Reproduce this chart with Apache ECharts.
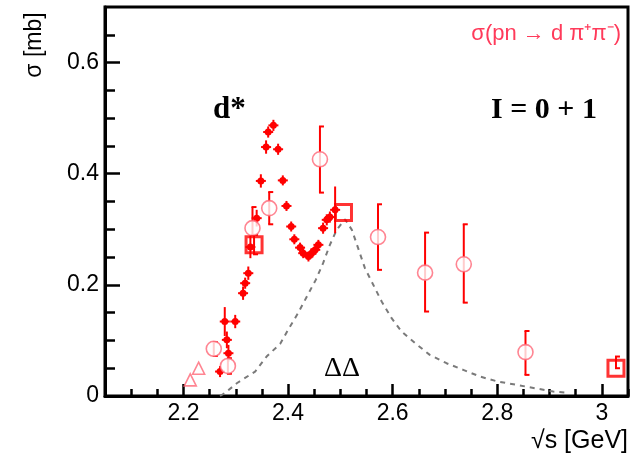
<!DOCTYPE html>
<html>
<head>
<meta charset="utf-8">
<script src="https://cdn.jsdelivr.net/npm/echarts@6/dist/echarts.min.js"></script>
<style>html,body{margin:0;padding:0;background:#fff;}#c{width:635px;height:459px;}</style>
</head>
<body>
<div id="c"></div>
<script>
// ---- data ----
const xTicks = [2.2, 2.4, 2.6, 2.8, 3.0];
const xTickLabels = ['2.2', '2.4', '2.6', '2.8', '3'];
const xMinorTicks = [2.05, 2.1, 2.15, 2.25, 2.3, 2.35, 2.45, 2.5, 2.55, 2.65, 2.7, 2.75, 2.85, 2.9, 2.95, 3.05];
const yTicks = [0, 0.2, 0.4, 0.6];
const yTickLabels = ['0', '0.2', '0.4', '0.6'];
const yMinorTicks = [0.05, 0.1, 0.15, 0.25, 0.3, 0.35, 0.45, 0.5, 0.55, 0.65];

// Delta-Delta (dashed curve)
const ddX = [2.27, 2.279, 2.302, 2.337, 2.359, 2.385, 2.400, 2.419, 2.436, 2.453, 2.467, 2.480, 2.493, 2.509, 2.522, 2.534, 2.547, 2.579, 2.598, 2.617, 2.643, 2.671, 2.703, 2.735, 2.767, 2.801, 2.837, 2.872, 2.907, 2.935];
const ddY = [0.0, 0.005, 0.023, 0.044, 0.071, 0.094, 0.119, 0.149, 0.179, 0.209, 0.239, 0.272, 0.299, 0.318, 0.299, 0.266, 0.230, 0.170, 0.140, 0.116, 0.095, 0.074, 0.059, 0.047, 0.035, 0.026, 0.020, 0.014, 0.008, 0.006];

// WASA filled points
const wasaX = [2.270, 2.279, 2.283, 2.286, 2.299, 2.314, 2.318, 2.324, 2.328, 2.340, 2.348, 2.358, 2.362, 2.372, 2.381, 2.390, 2.397, 2.406, 2.412, 2.423, 2.429, 2.439, 2.445, 2.452, 2.458, 2.467, 2.474, 2.480, 2.490];
const wasaY = [0.044, 0.134, 0.101, 0.077, 0.134, 0.185, 0.203, 0.221, 0.268, 0.320, 0.387, 0.448, 0.475, 0.487, 0.444, 0.388, 0.342, 0.305, 0.282, 0.267, 0.257, 0.251, 0.257, 0.263, 0.272, 0.302, 0.317, 0.322, 0.335];
const wasaErr = [0.010, 0.026, 0.015, 0.015, 0.012, 0.012, 0.010, 0.012, 0.020, 0.015, 0.012, 0.012, 0.010, 0.010, 0.010, 0.008, 0.008, 0.006, 0.006, 0.006, 0.006, 0.006, 0.006, 0.006, 0.006, 0.010, 0.010, 0.010, 0.042];

// open circles
const circX = [2.258, 2.285, 2.332, 2.364, 2.461, 2.572, 2.662, 2.736, 2.854];
const circY = [0.085, 0.054, 0.302, 0.338, 0.426, 0.286, 0.222, 0.237, 0.079];
const circLo = [0.072, 0.040, 0.290, 0.309, 0.366, 0.227, 0.152, 0.168, 0.038];
const circHi = [0.097, 0.068, 0.340, 0.367, 0.485, 0.345, 0.294, 0.309, 0.117];

// open squares
const sqX = [2.335, 2.506, 3.027];
const sqY = [0.272, 0.330, 0.050];
const sqLo = [0.255, 0.330, 0.050];
const sqHi = [0.290, 0.330, 0.071];

// open triangles
const triX = [2.213, 2.229];
const triY = [0.029, 0.050];

// ---- build ----
const RED = '#ff0000';
const PINK = '#ff6677';
const zip = (a, b) => a.map((v, i) => [v, b[i]]);
const errData = circX.map((x, i) => [x, circLo[i], circHi[i]])
  .concat(sqX.map((x, i) => [x, sqLo[i], sqHi[i]]));

function renderErr(params, api) {
  const x = api.value(0), lo = api.value(1), hi = api.value(2);
  if (lo === hi) return null;
  const a = api.coord([x, lo]), b = api.coord([x, hi]);
  const st = { stroke: RED, lineWidth: 2 };
  return { type: 'group', children: [
    { type: 'line', shape: { x1: a[0], y1: a[1], x2: b[0], y2: b[1] }, style: st },
    { type: 'line', shape: { x1: a[0] - 1, y1: a[1], x2: a[0] + 4, y2: a[1] }, style: st },
    { type: 'line', shape: { x1: b[0] - 1, y1: b[1], x2: b[0] + 4, y2: b[1] }, style: st }
  ]};
}

function renderWasa(params, api) {
  const x = api.value(0), y = api.value(1), e = api.value(2);
  const c = api.coord([x, y]);
  const a = api.coord([x, y - e]), b = api.coord([x, y + e]);
  const st = { stroke: RED, lineWidth: 2 };
  return { type: 'group', children: [
    { type: 'line', shape: { x1: a[0], y1: Math.max(a[1], c[1] + 5), x2: b[0], y2: Math.min(b[1], c[1] - 5) }, style: st },
    { type: 'line', shape: { x1: c[0] - 5, y1: c[1], x2: c[0] + 5, y2: c[1] }, style: st },
    { type: 'circle', shape: { cx: c[0], cy: c[1], r: 3.5 }, style: { fill: RED } }
  ]};
}

const chart = echarts.init(document.getElementById('c'), null, { renderer: 'canvas' });
const tickFont = { fontFamily: 'Liberation Sans', fontSize: 23, color: '#000' };
chart.setOption({
  animation: false,
  backgroundColor: '#fff',
  grid: { left: 105, top: 7, width: 523, height: 389, show: true, borderColor: '#000', borderWidth: 3, backgroundColor: 'transparent' },
  xAxis: [{
    type: 'value', min: 2.05, max: 3.05,
    axisLine: { show: true, onZero: false, lineStyle: { color: '#000', width: 3 } },
    axisTick: { show: true, inside: true, length: 12, customValues: xTicks, lineStyle: { color: '#000', width: 2.5 } },
    axisLabel: { show: true, margin: 6, customValues: xTicks, formatter: (v) => xTickLabels[xTicks.findIndex(t => Math.abs(t - v) < 1e-6)], ...tickFont },
    splitLine: { show: false }
  }, {
    type: 'value', min: 2.05, max: 3.05, position: 'bottom',
    axisLine: { show: false },
    axisTick: { show: true, inside: true, length: 7, customValues: xMinorTicks, lineStyle: { color: '#000', width: 2.5 } },
    axisLabel: { show: false },
    splitLine: { show: false }
  }],
  yAxis: [{
    type: 'value', min: 0, max: 0.7,
    axisLine: { show: true, onZero: false, lineStyle: { color: '#000', width: 3 } },
    axisTick: { show: true, inside: true, length: 15, customValues: yTicks, lineStyle: { color: '#000', width: 2.5 } },
    axisLabel: { show: true, margin: 6, customValues: yTicks, formatter: (v) => yTickLabels[yTicks.findIndex(t => Math.abs(t - v) < 1e-6)], ...tickFont },
    splitLine: { show: false }
  }, {
    type: 'value', min: 0, max: 0.7, position: 'left',
    axisLine: { show: false },
    axisTick: { show: true, inside: true, length: 10, customValues: yMinorTicks, lineStyle: { color: '#000', width: 2.5 } },
    axisLabel: { show: false },
    splitLine: { show: false }
  }],
  series: [
    { type: 'line', data: zip(ddX, ddY), symbol: 'none', smooth: false, z: 2,
      lineStyle: { color: '#7a7a7a', width: 2, type: [5, 5] } },
    { type: 'custom', data: errData, renderItem: renderErr, z: 3 },
    { type: 'custom', data: wasaX.map((x, i) => [x, wasaY[i], wasaErr[i]]), renderItem: renderWasa, z: 4 },
    { type: 'scatter', data: zip(circX, circY), symbol: 'circle', symbolSize: 15, z: 5,
      itemStyle: { color: '#fff', borderColor: PINK, borderWidth: 1.6 } },
    { type: 'scatter', data: zip(sqX, sqY), symbol: 'rect', symbolSize: 16, z: 6,
      itemStyle: { color: 'rgba(0,0,0,0)', borderColor: RED, borderWidth: 3 } },
    { type: 'scatter', data: zip(triX, triY), symbol: 'triangle', symbolSize: 12, z: 5,
      itemStyle: { color: 'rgba(0,0,0,0)', borderColor: PINK, borderWidth: 1.6 } }
  ],
  graphic: [
    { type: 'text', x: 35, y: 45, rotation: Math.PI / 2, style: { text: 'σ [mb]', fontFamily: 'Liberation Sans', fontSize: 23, fill: '#000', align: 'center', verticalAlign: 'middle' } },
    { type: 'text', x: 628, y: 441, style: { text: '√s [GeV]', fontFamily: 'Liberation Sans', fontSize: 25, fill: '#000', align: 'right', verticalAlign: 'middle' } },
    { type: 'text', x: 621, y: 34, style: { text: 'σ(pn → d π⁺π⁻)', fontFamily: 'Liberation Sans', fontSize: 22, fill: '#ff3a5a', align: 'right', verticalAlign: 'middle' } },
    { type: 'text', x: 544, y: 110, style: { text: 'I = 0 + 1', fontFamily: 'Liberation Serif', fontWeight: 'bold', fontSize: 30, fill: '#000', align: 'center', verticalAlign: 'middle' } },
    { type: 'text', x: 213, y: 110, style: { text: 'd*', fontFamily: 'Liberation Serif', fontWeight: 'bold', fontSize: 31, fill: '#000', align: 'left', verticalAlign: 'middle' } },
    { type: 'text', x: 342, y: 369, style: { text: 'ΔΔ', fontFamily: 'Liberation Serif', fontSize: 28, fill: '#000', align: 'center', verticalAlign: 'middle' } }
  ]
});
</script>
</body>
</html>
